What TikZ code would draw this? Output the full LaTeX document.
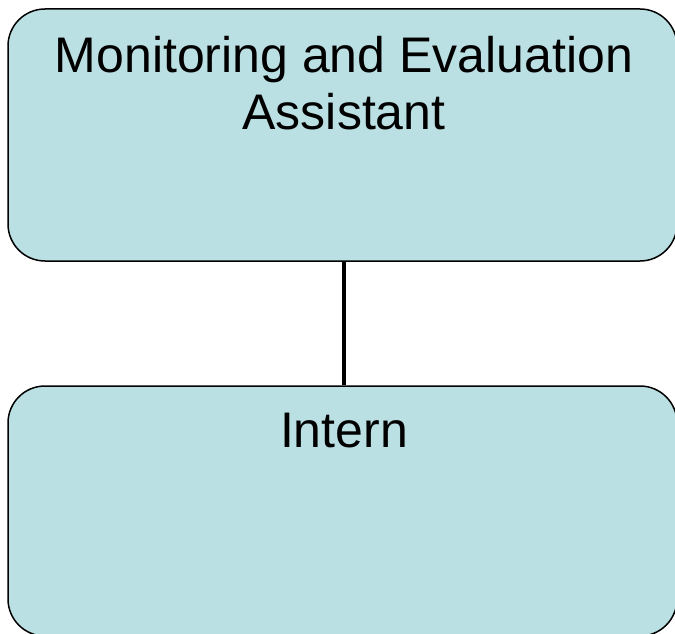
\documentclass[tikz,border=0pt]{standalone}
\usepackage{fontspec}
\setmainfont{Liberation Sans}
\begin{document}
\begin{tikzpicture}[x=1pt,y=-1pt,
  orgbox/.style={draw=black, line width=1.5pt, fill=boxfill, rounded corners=37pt,
    minimum width=669pt, inner sep=0pt},
  boxtext/.style={font=\fontsize{50}{57}\selectfont, align=center, inner sep=0pt},
  link/.style={draw=black, line width=4.5pt}]
\definecolor{boxfill}{HTML}{BBE0E3}
\useasboundingbox (0,0) rectangle (675,634);
% upper box
\node[orgbox, minimum height=252pt] (top) at (342.5,135) {};
\node[boxtext, anchor=north] (toptext) at (344,36) {Monitoring and Evaluation\\Assistant};
% lower box
\node[orgbox, minimum height=250pt] (bottom) at (342.5,511) {};
\node[boxtext, anchor=base] (bottomtext) at (344,447) {Intern};
% connector
\draw[link] ([xshift=1.5pt]top.south) -- ([xshift=1.5pt]bottom.north);
\end{tikzpicture}
\end{document}
